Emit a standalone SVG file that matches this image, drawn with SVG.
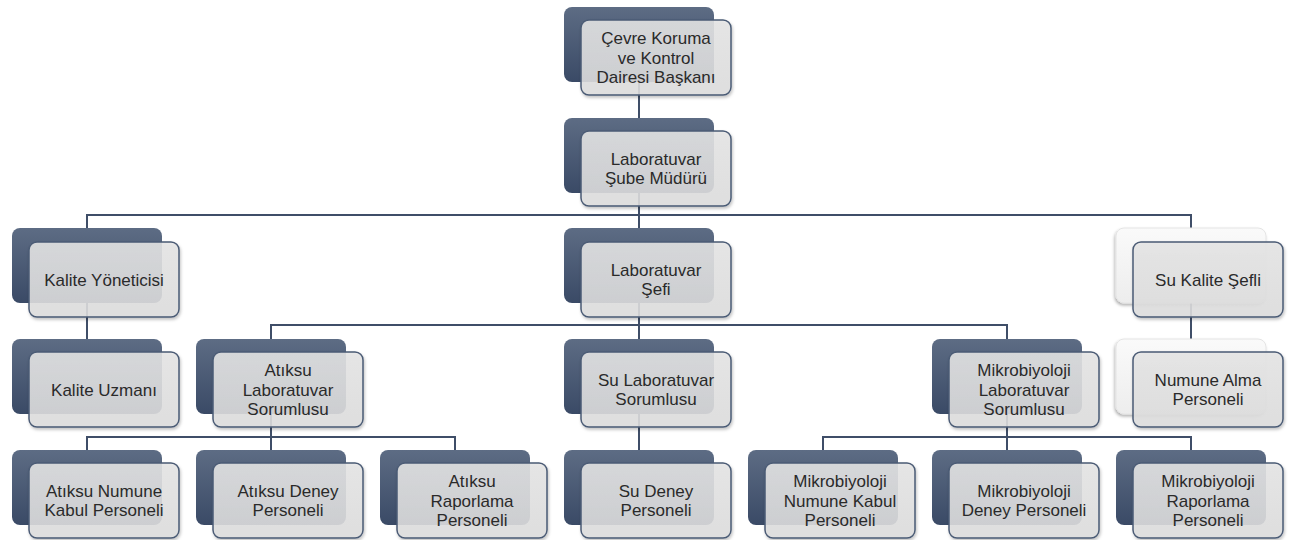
<svg xmlns="http://www.w3.org/2000/svg" width="1289" height="540" viewBox="0 0 1289 540">
<defs>
<linearGradient id="gBack" x1="0" y1="0" x2="0" y2="1">
<stop offset="0" stop-color="#5d6c84"/>
<stop offset="1" stop-color="#3a4a66"/>
</linearGradient>
<linearGradient id="gLight" x1="0" y1="0" x2="0" y2="1">
<stop offset="0" stop-color="#fafafa"/>
<stop offset="1" stop-color="#ededed"/>
</linearGradient>
<linearGradient id="gFront" x1="0" y1="0" x2="0" y2="1">
<stop offset="0" stop-color="#e6e6e6"/>
<stop offset="1" stop-color="#dedede"/>
</linearGradient>
<filter id="sh" x="-10%" y="-10%" width="130%" height="140%">
<feDropShadow dx="1" dy="2" stdDeviation="1.5" flood-color="#000" flood-opacity="0.25"/>
</filter>
<filter id="shl" x="-10%" y="-10%" width="130%" height="140%">
<feDropShadow dx="-1" dy="2" stdDeviation="1.5" flood-color="#000" flood-opacity="0.3"/>
</filter>
</defs>
<style>
.back{fill:url(#gBack);}
.backl{fill:url(#gLight);stroke:#e4e4e4;stroke-width:1;}
.front{fill:url(#gFront);fill-opacity:0.88;stroke:#4b5b75;stroke-width:1.5;}
.t{font-family:"Liberation Sans",Arial,sans-serif;font-size:17px;fill:#2a2a2a;text-anchor:middle;}
.c{fill:none;stroke:#3f4e68;stroke-width:2;}
</style>
<rect width="1289" height="540" fill="#ffffff"/>
<g id="connectors">
<path class="c" d="M639 82V118"/>
<path class="c" d="M639 193V228M87 228V215H1191V228"/>
<path class="c" d="M87 303V339"/>
<path class="c" d="M1191 303V339"/>
<path class="c" d="M639 303V339M271 339V325H1007V339"/>
<path class="c" d="M271 414V450M87 450V437H455V450"/>
<path class="c" d="M639 414V450"/>
<path class="c" d="M1007 414V450M823 450V437H1191V450"/>
</g>
<g id="n-baskan">
<rect class="back" x="564" y="7" width="150" height="75" rx="8"/>
<rect class="front" filter="url(#sh)" x="581" y="20" width="150" height="75" rx="8"/>
<text class="t" x="656" y="44">Çevre Koruma</text>
<text class="t" x="656" y="63.5">ve Kontrol</text>
<text class="t" x="656" y="83">Dairesi Başkanı</text>
</g>
<g id="n-mudur">
<rect class="back" x="564" y="118" width="150" height="75" rx="8"/>
<rect class="front" filter="url(#sh)" x="581" y="131" width="150" height="75" rx="8"/>
<text class="t" x="656" y="164.75">Laboratuvar</text>
<text class="t" x="656" y="184.25">Şube Müdürü</text>
</g>
<g id="n-kaliteyon">
<rect class="back" x="12" y="228" width="150" height="75" rx="8"/>
<rect class="front" filter="url(#sh)" x="29" y="242" width="150" height="75" rx="8"/>
<text class="t" x="104" y="285.5">Kalite Yöneticisi</text>
</g>
<g id="n-labsefi">
<rect class="back" x="564" y="228" width="150" height="75" rx="8"/>
<rect class="front" filter="url(#sh)" x="581" y="242" width="150" height="75" rx="8"/>
<text class="t" x="656" y="275.75">Laboratuvar</text>
<text class="t" x="656" y="295.25">Şefi</text>
</g>
<g id="n-sukalite">
<rect class="backl" filter="url(#shl)" x="1116" y="228" width="150" height="75" rx="8"/>
<rect class="front" filter="url(#sh)" x="1133" y="242" width="150" height="75" rx="8"/>
<text class="t" x="1208" y="285.5">Su Kalite Şefli</text>
</g>
<g id="n-kaliteuzm">
<rect class="back" x="12" y="339" width="150" height="75" rx="8"/>
<rect class="front" filter="url(#sh)" x="29" y="352" width="150" height="75" rx="8"/>
<text class="t" x="104" y="395.5">Kalite Uzmanı</text>
</g>
<g id="n-atiksulab">
<rect class="back" x="196" y="339" width="150" height="75" rx="8"/>
<rect class="front" filter="url(#sh)" x="213" y="352" width="150" height="75" rx="8"/>
<text class="t" x="288" y="376">Atıksu</text>
<text class="t" x="288" y="395.5">Laboratuvar</text>
<text class="t" x="288" y="415">Sorumlusu</text>
</g>
<g id="n-sulab">
<rect class="back" x="564" y="339" width="150" height="75" rx="8"/>
<rect class="front" filter="url(#sh)" x="581" y="352" width="150" height="75" rx="8"/>
<text class="t" x="656" y="385.75">Su Laboratuvar</text>
<text class="t" x="656" y="405.25">Sorumlusu</text>
</g>
<g id="n-mikrolab">
<rect class="back" x="932" y="339" width="150" height="75" rx="8"/>
<rect class="front" filter="url(#sh)" x="949" y="352" width="150" height="75" rx="8"/>
<text class="t" x="1024" y="376">Mikrobiyoloji</text>
<text class="t" x="1024" y="395.5">Laboratuvar</text>
<text class="t" x="1024" y="415">Sorumlusu</text>
</g>
<g id="n-numunealma">
<rect class="backl" filter="url(#shl)" x="1116" y="339" width="150" height="75" rx="8"/>
<rect class="front" filter="url(#sh)" x="1133" y="352" width="150" height="75" rx="8"/>
<text class="t" x="1208" y="385.75">Numune Alma</text>
<text class="t" x="1208" y="405.25">Personeli</text>
</g>
<g id="n-atiksunumune">
<rect class="back" x="12" y="450" width="150" height="75" rx="8"/>
<rect class="front" filter="url(#sh)" x="29" y="463" width="150" height="75" rx="8"/>
<text class="t" x="104" y="496.75">Atıksu Numune</text>
<text class="t" x="104" y="516.25">Kabul Personeli</text>
</g>
<g id="n-atiksudeney">
<rect class="back" x="196" y="450" width="150" height="75" rx="8"/>
<rect class="front" filter="url(#sh)" x="213" y="463" width="150" height="75" rx="8"/>
<text class="t" x="288" y="496.75">Atıksu Deney</text>
<text class="t" x="288" y="516.25">Personeli</text>
</g>
<g id="n-atiksurapor">
<rect class="back" x="380" y="450" width="150" height="75" rx="8"/>
<rect class="front" filter="url(#sh)" x="397" y="463" width="150" height="75" rx="8"/>
<text class="t" x="472" y="487">Atıksu</text>
<text class="t" x="472" y="506.5">Raporlama</text>
<text class="t" x="472" y="526">Personeli</text>
</g>
<g id="n-sudeney">
<rect class="back" x="564" y="450" width="150" height="75" rx="8"/>
<rect class="front" filter="url(#sh)" x="581" y="463" width="150" height="75" rx="8"/>
<text class="t" x="656" y="496.75">Su Deney</text>
<text class="t" x="656" y="516.25">Personeli</text>
</g>
<g id="n-mikronumune">
<rect class="back" x="748" y="450" width="150" height="75" rx="8"/>
<rect class="front" filter="url(#sh)" x="765" y="463" width="150" height="75" rx="8"/>
<text class="t" x="840" y="487">Mikrobiyoloji</text>
<text class="t" x="840" y="506.5">Numune Kabul</text>
<text class="t" x="840" y="526">Personeli</text>
</g>
<g id="n-mikrodeney">
<rect class="back" x="932" y="450" width="150" height="75" rx="8"/>
<rect class="front" filter="url(#sh)" x="949" y="463" width="150" height="75" rx="8"/>
<text class="t" x="1024" y="496.75">Mikrobiyoloji</text>
<text class="t" x="1024" y="516.25">Deney Personeli</text>
</g>
<g id="n-mikrorapor">
<rect class="back" x="1116" y="450" width="150" height="75" rx="8"/>
<rect class="front" filter="url(#sh)" x="1133" y="463" width="150" height="75" rx="8"/>
<text class="t" x="1208" y="487">Mikrobiyoloji</text>
<text class="t" x="1208" y="506.5">Raporlama</text>
<text class="t" x="1208" y="526">Personeli</text>
</g>
</svg>
